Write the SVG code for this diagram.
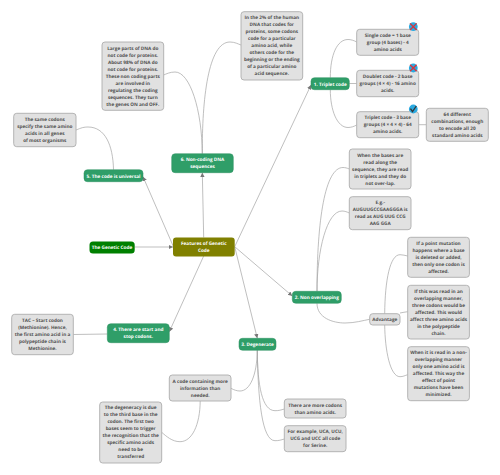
<svg xmlns="http://www.w3.org/2000/svg" width="500" height="475" viewBox="0 0 500 475">
<style>
text{font-family:"Open Sans","Noto Sans",sans-serif;font-size:4.7px;font-weight:700;text-anchor:middle;text-rendering:geometricPrecision}
.n rect{fill:#e1e1e1;stroke:#aeaeae;stroke-width:.9}
.n text{fill:#505050}
.g rect{fill:#2f9e68;stroke:#2a8f5e;stroke-width:.5}
.g text,.c text{fill:#fff}
#connectors path{fill:none;stroke:#a3a3a3;stroke-width:.7}
</style>
<defs>
<marker id="a" markerWidth="5" markerHeight="5" refX="4.4" refY="2.2" orient="auto" markerUnits="userSpaceOnUse"><path d="M0,0L4.4,2.2L0,4.4z" fill="#777"/></marker>
<g id="no"><circle r="4.4" fill="#2aa9e0"/><path d="M-3.3,-3.3L3.3,3.3M3.3,-3.3L-3.3,3.3" stroke="#d9323a" stroke-width="1.3" fill="none"/></g>
<g id="yes"><circle r="4.4" fill="#2aa9e0"/><path d="M-2.8,-.3L-.8,2.6L3,-3" stroke="#333" stroke-width="1.3" fill="none"/></g>
</defs>
<rect width="500" height="475" fill="#fff"/>
<g id="connectors">
<path marker-end="url(#a)" d="M234.7,246.7L311,85"/>
<path marker-end="url(#a)" d="M234.7,246.7L292.3,296"/>
<path marker-end="url(#a)" d="M234.7,246.7L257.3,338.3"/>
<path marker-end="url(#a)" d="M203.7,256L169.3,331.7"/>
<path marker-end="url(#a)" d="M173.6,247L143,176.7"/>
<path marker-end="url(#a)" d="M203.7,237.5L202.3,172.7"/>
<path marker-end="url(#a)" d="M134.7,247L173,247"/>
<path d="M202.3,153.7C202,100 208,42 230,42C235,42 238,44 241,45"/>
<path d="M202.3,153.7C202,110 190,72 175,72C170,72 166,74 163.7,75"/>
<path d="M113.5,169.7C113,145 105,127 88,127C82,127 79,129 76,130"/>
<path d="M330.3,77.7C330.3,55 337,39.5 348,39.5C351,39.5 354,40.5 356.7,42"/>
<path d="M349.3,83.5L356.7,83.5"/>
<path d="M330.3,89.7C330.3,110 337,127.5 348,127.5C351,127.5 354,126.5 356.7,125"/>
<path d="M418.7,124.7L426.3,124.7"/>
<path d="M317,291.3C317,220 325,167.5 343,167.5C345,167.5 347,168 349.3,169"/>
<path d="M317,291.3C317,250 327,211 342,211C345,211 347,212 349.3,213"/>
<path d="M317,303.3C317,318 333,323 345,323C355,323 363,320.5 369.7,319.3"/>
<path d="M384.7,313.7C385,280 390,254.7 400,254.7C403,254.7 405,255.5 407.7,256"/>
<path d="M400,313C403,312.5 405,312 407.7,311.7"/>
<path d="M384.7,325C385,350 390,376.7 400,376.7C403,376.7 405,375.5 407.7,374.7"/>
<path d="M257.3,350.3C257.5,385 262,410.7 275,410.7C279,410.7 281,410 284.3,409"/>
<path d="M257.3,350.3C258,400 262,440.7 275,440.7C279,440.7 281,440 284.3,439"/>
<path d="M257.3,350.3C257,375 250,391 240,391C237,391 234,390 231,388.3"/>
<path d="M200.2,401C200,425 192,441.7 180,441.7C172,441.7 166,436 161.7,432.3"/>
<path d="M73.3,334.5L107.3,334"/>
</g>
<g id="center" class="c"><rect x="173" y="237.5" width="61.7" height="19" rx="3" fill="#808000"/><text x="203.8" y="244.9">Features of Genetic</text><text x="203.8" y="251.9">Code</text></g>
<g id="root" class="c"><rect x="89.5" y="241.5" width="45.2" height="12" rx="3.5" fill="#008000"/><text x="112" y="249.4">The Genetic Code</text></g>
<g id="n1" class="g"><rect x="311" y="77.7" width="38.3" height="12" rx="3.5"/><text x="330.2" y="85.6">1. Triplet code</text></g>
<g id="n2" class="g"><rect x="292.3" y="291.3" width="49" height="12" rx="3.5"/><text x="316.8" y="299.2">2. Non overlapping</text></g>
<g id="n3" class="g"><rect x="239" y="338.3" width="37" height="12" rx="3.5"/><text x="257.5" y="346.2">3. Degenerate</text></g>
<g id="n4" class="g"><rect x="107.3" y="323.7" width="62" height="19" rx="3.5"/><text x="138.3" y="331.2">4. There are start and</text><text x="138.3" y="338.2">stop codons.</text></g>
<g id="n5" class="g"><rect x="84" y="169.7" width="59" height="12" rx="3.5"/><text x="113.5" y="177.6">5. The code is universal</text></g>
<g id="n6" class="g"><rect x="171.7" y="153.7" width="61.6" height="19" rx="3.5"/><text x="202.5" y="161.1">6. Non-coding DNA</text><text x="202.5" y="168.1">sequences</text></g>
<g id="d1" class="n"><rect x="241" y="11.7" width="61.7" height="68.3" rx="3"/><text x="271.8" y="18.8">In the 2% of the human</text><text x="271.8" y="25.8">DNA that codes for</text><text x="271.8" y="32.8">proteins, some codons</text><text x="271.8" y="39.8">code for a particular</text><text x="271.8" y="46.8">amino acid, while</text><text x="271.8" y="53.8">others code for the</text><text x="271.8" y="60.8">beginning or the ending</text><text x="271.8" y="67.8">of a particular amino</text><text x="271.8" y="74.8">acid sequence.</text></g>
<g id="d2" class="n"><rect x="102" y="42" width="61.7" height="68.3" rx="3"/><text x="132.8" y="49.8">Large parts of DNA do</text><text x="132.8" y="56.8">not code for proteins.</text><text x="132.8" y="63.8">About 98% of DNA do</text><text x="132.8" y="70.8">not code for proteins.</text><text x="132.8" y="77.8">These non coding parts</text><text x="132.8" y="84.8">are involved in</text><text x="132.8" y="91.8">regulating the coding</text><text x="132.8" y="98.8">sequences. They turn</text><text x="132.8" y="105.8">the genes ON and OFF.</text></g>
<g id="d3" class="n"><rect x="13.7" y="113.3" width="62.3" height="33.4" rx="3"/><text x="44.8" y="121.2">The same codons</text><text x="44.8" y="128.2">specify the same amino</text><text x="44.8" y="135.2">acids in all genes</text><text x="44.8" y="142.2">of most organisms</text></g>
<g id="d4" class="n"><rect x="356.7" y="29.3" width="62" height="26" rx="3"/><text x="387.7" y="37">Single code = 1 base</text><text x="387.7" y="44">group (4 bases) - 4</text><text x="387.7" y="51">amino acids</text><use href="#no" x="413.3" y="26.7"/></g>
<g id="d5" class="n"><rect x="356.7" y="70.3" width="62" height="26.4" rx="3"/><text x="387.7" y="78">Doublet code - 2 base</text><text x="387.7" y="85">groups (4 × 4) - 16 amino</text><text x="387.7" y="92">acids.</text><use href="#no" x="413.3" y="68"/></g>
<g id="d6" class="n"><rect x="356.7" y="111.7" width="62" height="26" rx="3"/><text x="387.7" y="119.3">Triplet code - 3 base</text><text x="387.7" y="126.3">groups (4 × 4 × 4) - 64</text><text x="387.7" y="133.3">amino acids.</text><use href="#yes" x="413.3" y="109"/></g>
<g id="d7" class="n"><rect x="426.3" y="108.3" width="62" height="33" rx="3"/><text x="457.3" y="115.7">64 different</text><text x="457.3" y="122.7">combinations, enough</text><text x="457.3" y="129.7">to encode all 20</text><text x="457.3" y="136.7">standard amino acids</text></g>
<g id="d8" class="n"><rect x="349.3" y="149" width="61.7" height="40" rx="3"/><text x="380.2" y="156.5">When the bases are</text><text x="380.2" y="163.5">read along the</text><text x="380.2" y="170.5">sequence, they are read</text><text x="380.2" y="177.5">in triplets and they do</text><text x="380.2" y="184.5">not over-lap.</text></g>
<g id="d9" class="n"><rect x="349.3" y="196.7" width="61.7" height="33" rx="3"/><text x="380.2" y="204">E.g.-</text><text x="380.2" y="211">AUGUUGCCGAAGGGA is</text><text x="380.2" y="218">read as AUG UUG CCG</text><text x="380.2" y="225">AAG GGA</text></g>
<g id="adv" class="n"><rect x="369.7" y="313.7" width="30.3" height="11.3" rx="3"/><text x="384.8" y="321.3">Advantage</text></g>
<g id="d10" class="n"><rect x="407.7" y="237.3" width="61.7" height="40" rx="3"/><text x="438.5" y="244.9">If a point mutation</text><text x="438.5" y="251.9">happens where a base</text><text x="438.5" y="258.9">is deleted or added,</text><text x="438.5" y="265.9">then only one codon is</text><text x="438.5" y="272.9">affected.</text></g>
<g id="d11" class="n"><rect x="407.7" y="285.3" width="61.7" height="53.7" rx="3"/><text x="438.5" y="292.9">If this was read in an</text><text x="438.5" y="299.9">overlapping manner,</text><text x="438.5" y="306.9">three codons would be</text><text x="438.5" y="313.9">affected. This would</text><text x="438.5" y="320.9">affect three amino acids</text><text x="438.5" y="327.9">in the polypeptide</text><text x="438.5" y="334.9">chain.</text></g>
<g id="d12" class="n"><rect x="407.7" y="346.7" width="61.7" height="54" rx="3"/><text x="438.5" y="354.3">When it is read in a non-</text><text x="438.5" y="361.3">overlapping manner</text><text x="438.5" y="368.3">only one amino acid is</text><text x="438.5" y="375.3">affected. This way the</text><text x="438.5" y="382.3">effect of point</text><text x="438.5" y="389.3">mutations have been</text><text x="438.5" y="396.3">minimized.</text></g>
<g id="d13" class="n"><rect x="284.3" y="399" width="61.7" height="19" rx="3"/><text x="315.2" y="406.6">There are more codons</text><text x="315.2" y="413.6">than amino acids.</text></g>
<g id="d14" class="n"><rect x="284.3" y="425.7" width="61.7" height="26" rx="3"/><text x="315.2" y="433.2">For example, UCA, UCU,</text><text x="315.2" y="440.2">UCG and UCC all code</text><text x="315.2" y="447.2">for Serine.</text></g>
<g id="d15" class="n"><rect x="169.3" y="375" width="61.7" height="26" rx="3"/><text x="200.2" y="382.5">A code containing more</text><text x="200.2" y="389.5">information than</text><text x="200.2" y="396.5">needed.</text></g>
<g id="d16" class="n"><rect x="99.7" y="402" width="62" height="61" rx="3"/><text x="130.7" y="409.2">The degeneracy is due</text><text x="130.7" y="416.2">to the third base in the</text><text x="130.7" y="423.2">codon. The first two</text><text x="130.7" y="430.2">bases seem to trigger</text><text x="130.7" y="437.2">the recognition that the</text><text x="130.7" y="444.2">specific amino acids</text><text x="130.7" y="451.2">need to be</text><text x="130.7" y="458.2">transferred</text></g>
<g id="d17" class="n"><rect x="11.7" y="314.3" width="61.6" height="40.4" rx="3"/><text x="42.5" y="322.3">TAC – Start codon</text><text x="42.5" y="329.3">(Methionine). Hence,</text><text x="42.5" y="336.3">the first amino acid in a</text><text x="42.5" y="343.3">polypeptide chain is</text><text x="42.5" y="350.3">Methionine.</text></g>
</svg>
